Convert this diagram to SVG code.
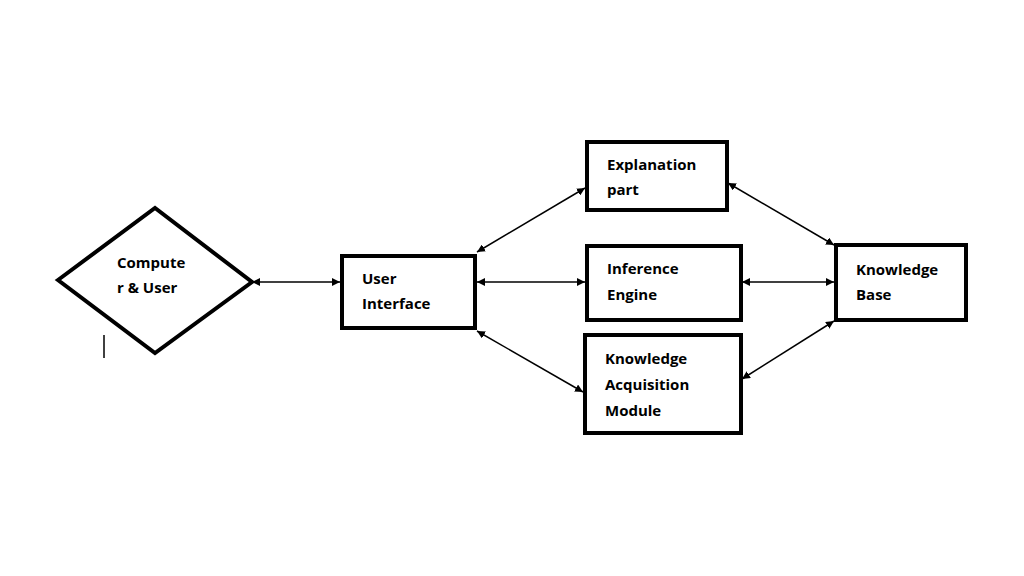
<svg xmlns="http://www.w3.org/2000/svg" width="1024" height="576" viewBox="0 0 1024 576">
<style>
.n{fill:#fff;stroke:#000;stroke-width:4}
.t{font-family:"Open Sans","DejaVu Sans",sans-serif;font-weight:bold;font-size:15px;fill:#000}
.c{stroke:#000;stroke-width:1.5;fill:none;marker-start:url(#a);marker-end:url(#a)}
</style>
<defs><marker id="a" viewBox="0 0 10 10" refX="10" refY="5" markerWidth="8" markerHeight="8" orient="auto-start-reverse" markerUnits="userSpaceOnUse"><path d="M0,0L10,5L0,10z" fill="#000"/></marker></defs>
<rect width="1024" height="576" fill="#fff"/>
<g id="connectors">
<line class="c" x1="252" y1="282" x2="340" y2="282"/>
<line class="c" x1="477" y1="252" x2="585" y2="188"/>
<line class="c" x1="477" y1="282" x2="585" y2="282"/>
<line class="c" x1="477" y1="331" x2="583" y2="392"/>
<line class="c" x1="728" y1="183" x2="834" y2="245"/>
<line class="c" x1="742" y1="282" x2="834" y2="282"/>
<line class="c" x1="742" y1="379" x2="834" y2="321"/>
<line x1="104" y1="335" x2="104" y2="358" stroke="#000" stroke-width="1.5"/>
</g>
<g id="user"><polygon class="n" points="58,280 155,208 252,282 155,353"/><text class="t" x="117" y="268">Compute</text><text class="t" x="117" y="293">r &amp; User</text></g>
<g id="ui"><rect class="n" x="342" y="256" width="133" height="72"/><text class="t" x="362" y="284">User</text><text class="t" x="362" y="309">Interface</text></g>
<g id="expl"><rect class="n" x="587" y="142" width="140" height="68"/><text class="t" x="607" y="170">Explanation</text><text class="t" x="607" y="195">part</text></g>
<g id="inf"><rect class="n" x="587" y="246" width="154" height="74"/><text class="t" x="607" y="274">Inference</text><text class="t" x="607" y="300">Engine</text></g>
<g id="kam"><rect class="n" x="585" y="335" width="156" height="98"/><text class="t" x="605" y="364">Knowledge</text><text class="t" x="605" y="390">Acquisition</text><text class="t" x="605" y="416">Module</text></g>
<g id="kb"><rect class="n" x="836" y="245" width="130" height="75"/><text class="t" x="856" y="275">Knowledge</text><text class="t" x="856" y="300">Base</text></g>
</svg>
